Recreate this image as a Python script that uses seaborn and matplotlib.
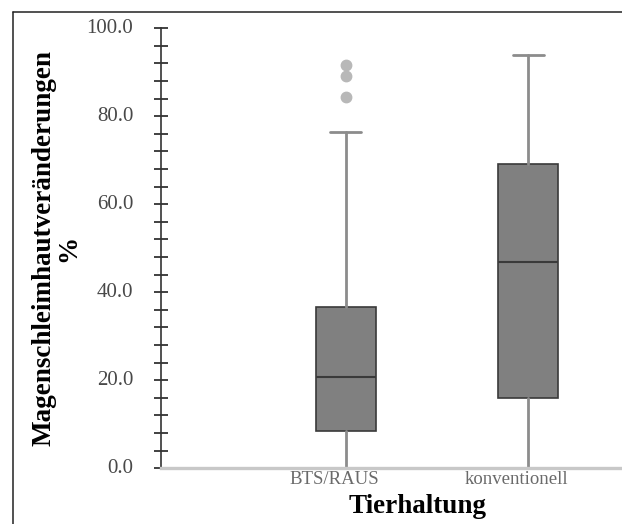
import matplotlib
matplotlib.use("Agg")

import numpy as np
import matplotlib.pyplot as plt
import matplotlib.transforms as mtransforms
from matplotlib.lines import Line2D
from matplotlib.ticker import MultipleLocator, FormatStrFormatter
import seaborn as sns

# --------------------------------
# DATA
# --------------------------------
categories = ["BTS/RAUS", "konventionell"]

whisker_low = [0.0, 0.0]
q1 = [8.5, 16.0]
median = [20.8, 46.8]
q3 = [36.6, 69.2]
whisker_high = [76.5, 93.9]

outliers = [
    [84.4, 89.1, 91.6],
    []
]

x_label = "Tierhaltung"
y_label = "Magenschleimhautveränderungen\n%"

# --------------------------------
# STYLE
# --------------------------------
sns.set_theme(style="white")

plt.rcParams["font.family"] = ["Liberation Serif", "DejaVu Serif"]

box_face = "#808080"
box_edge = "#3a3a3a"
whisker_col = "#8c8c8c"
flier_col = "#b8b8b8"

stats = []

for i, cat in enumerate(categories):

    stats.append({
        "label": cat,
        "whislo": whisker_low[i],
        "q1": q1[i],
        "med": median[i],
        "q3": q3[i],
        "whishi": whisker_high[i],
        "fliers": np.array(outliers[i]),
    })

fig = plt.figure(
    figsize=(6.22, 5.24),
    dpi=100
)

ax = fig.add_axes([0.2588, 0.1063, 0.7412, 0.8397])

ax.bxp(
    stats,
    positions=[0, 1],
    widths=0.33,
    capwidths=0.17,
    patch_artist=True,
    boxprops=dict(facecolor=box_face, edgecolor=box_edge, linewidth=1.2),
    whiskerprops=dict(color=whisker_col, linewidth=2.0),
    capprops=dict(color=whisker_col, linewidth=2.0),
    medianprops=dict(color=box_edge, linewidth=1.5),
    flierprops=dict(
        marker="o",
        markerfacecolor=flier_col,
        markeredgecolor=flier_col,
        markersize=7.5
    ),
)

# --------------------------------
# AXES
# --------------------------------
ax.set_xlim(-1.016, 1.516)
ax.set_ylim(0, 100)

ax.yaxis.set_major_locator(MultipleLocator(20))
ax.yaxis.set_minor_locator(MultipleLocator(4))
ax.yaxis.set_major_formatter(FormatStrFormatter("%.1f"))

ax.tick_params(
    axis="y",
    which="both",
    direction="inout",
    length=10,
    width=1.3,
    color="#333333",
    left=True
)

ax.tick_params(
    axis="y",
    which="major",
    labelsize=15,
    labelcolor="#484848",
    pad=15
)

ax.set_xticks([0, 1])
ax.set_xticklabels(categories)

ax.tick_params(
    axis="x",
    length=0,
    labelsize=13.5,
    labelcolor="#6a6a6a",
    pad=2
)

# category labels sit a little left of the boxes, y labels a little high
shift_x = mtransforms.ScaledTranslation(-12 / 100, 0, fig.dpi_scale_trans)
for lab in ax.get_xticklabels():
    lab.set_transform(lab.get_transform() + shift_x)

shift_y = mtransforms.ScaledTranslation(0, 2 / 100, fig.dpi_scale_trans)
for lab in ax.get_yticklabels():
    lab.set_transform(lab.get_transform() + shift_y)

sns.despine(ax=ax, top=True, right=True)

ax.spines["left"].set_color("#333333")
ax.spines["left"].set_linewidth(1.2)
ax.spines["bottom"].set_color("#c8c8c8")
ax.spines["bottom"].set_linewidth(2.4)

ax.set_xlabel(x_label, fontsize=19.5, fontweight="bold", color="black")
ax.xaxis.set_label_coords(0.557, -0.058)

ax.set_ylabel(y_label, fontsize=19.5, fontweight="bold", color="black",
              linespacing=1.0)
ax.yaxis.set_label_coords(-0.172, 0.5)

# --------------------------------
# FRAME (left and top edges only)
# --------------------------------
top_y = 1 - 12 / 524
left_x = 13 / 622

fig.add_artist(Line2D([left_x, 1], [top_y, top_y],
                      transform=fig.transFigure, color="#222222", lw=1.1))
fig.add_artist(Line2D([left_x, left_x], [0, top_y],
                      transform=fig.transFigure, color="#222222", lw=1.1))

fig.savefig("out.png", dpi=100)
